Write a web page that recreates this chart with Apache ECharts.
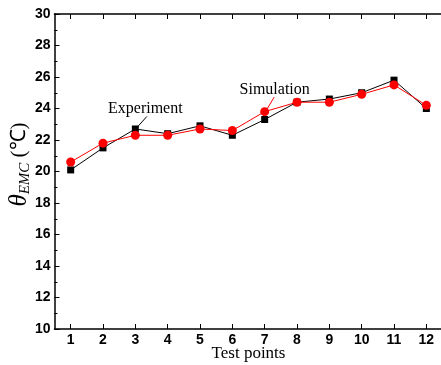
<!DOCTYPE html>
<html>
<head>
<meta charset="utf-8">
<script src="https://cdn.jsdelivr.net/npm/echarts@6/dist/echarts.min.js"></script>
<style>
  html, body { margin: 0; padding: 0; background: #fff; }
  #chart { width: 441px; height: 365px; }
</style>
</head>
<body>
<div id="chart"></div>
<script>
// Test point categories and measured / simulated temperatures
const testPoints = ['1', '2', '3', '4', '5', '6', '7', '8', '9', '10', '11', '12'];
const experiment = [20.1, 21.5, 22.7, 22.4, 22.9, 22.3, 23.3, 24.4, 24.6, 25.0, 25.8, 24.0];
const simulation = [20.6, 21.8, 22.3, 22.3, 22.7, 22.6, 23.8, 24.4, 24.4, 24.9, 25.5, 24.2];
const yTicks = [10, 12, 14, 16, 18, 20, 22, 24, 26, 28, 30];

const chart = echarts.init(document.getElementById('chart'), null, { renderer: 'canvas' });

const axisFont = { fontFamily: 'Liberation Sans, Arial, sans-serif', fontWeight: 'bold', fontSize: 14, color: '#000' };

chart.setOption({
  animation: false,
  backgroundColor: '#fff',
  grid: { left: 54.5, top: 14, right: -1.5, bottom: 36, containLabel: false, outerBoundsMode: 'none' },
  xAxis: [
    {
      type: 'category',
      data: testPoints,
      boundaryGap: true,
      name: 'Test points',
      nameLocation: 'middle',
      nameGap: 16,
      nameMoveOverlap: false,
      nameTextStyle: { fontFamily: 'Liberation Serif, Times New Roman, serif', fontSize: 17, color: '#000' },
      axisLine: { lineStyle: { color: '#000', width: 1.5 } },
      axisTick: { show: true, inside: true, alignWithLabel: true, length: 5, lineStyle: { color: '#000', width: 1 } },
      axisLabel: Object.assign({ margin: 4 }, axisFont),
      splitLine: { show: false }
    },
    {
      type: 'category',
      data: testPoints,
      position: 'top',
      boundaryGap: true,
      axisLine: { lineStyle: { color: '#000', width: 1.5 } },
      axisTick: { show: true, inside: true, alignWithLabel: true, length: 5, lineStyle: { color: '#000', width: 1 } },
      axisLabel: { show: false },
      splitLine: { show: false }
    }
  ],
  yAxis: {
    type: 'value',
    min: yTicks[0],
    max: yTicks[yTicks.length - 1],
    interval: 2,
    name: '{t|θ}{s|EMC}{u| (℃)}',
    nameLocation: 'middle',
    nameGap: 22,
    nameMoveOverlap: false,
    nameRotate: 90,
    nameTextStyle: {
      color: '#000',
      padding: [0, 0, 0, 14],
      rich: {
        t: { fontFamily: 'Liberation Serif, Times New Roman, serif', fontStyle: 'italic', fontSize: 25, color: '#000', lineHeight: 26 },
        s: { fontFamily: 'Liberation Serif, Times New Roman, serif', fontStyle: 'italic', fontSize: 15, color: '#000', lineHeight: 26, verticalAlign: 'bottom', padding: [8, 0, 0, 0] },
        u: { fontFamily: 'Liberation Serif, Times New Roman, serif', fontSize: 21, color: '#000', lineHeight: 26 }
      }
    },
    axisLine: { show: true, lineStyle: { color: '#000', width: 1.5 } },
    axisTick: { show: true, inside: true, length: 5, lineStyle: { color: '#000', width: 1 } },
    minorTick: { show: true, splitNumber: 2, length: 3, lineStyle: { color: '#000', width: 1 } },
    axisLabel: Object.assign({ margin: 4 }, axisFont),
    splitLine: { show: false }
  },
  series: [
    {
      name: 'Experiment',
      type: 'line',
      data: experiment,
      symbol: 'rect',
      symbolSize: 7,
      itemStyle: { color: '#000' },
      lineStyle: { color: '#000', width: 1 },
      z: 2
    },
    {
      name: 'Simulation',
      type: 'line',
      data: simulation,
      symbol: 'circle',
      symbolSize: 9,
      itemStyle: { color: '#ff0000' },
      lineStyle: { color: '#ff0000', width: 1 },
      z: 3
    }
  ]
});

// Callout labels anchored to the points they describe
function callout(seriesIndex, idx, value, text, color, lineFrom, lineTo, textOffset) {
  const p = chart.convertToPixel({ seriesIndex: seriesIndex }, [idx, value]);
  return [
    {
      type: 'line',
      shape: { x1: p[0] + lineFrom[0], y1: p[1] + lineFrom[1], x2: p[0] + lineTo[0], y2: p[1] + lineTo[1] },
      style: { stroke: color, lineWidth: 1 },
      z: 10
    },
    {
      type: 'text',
      x: p[0] + textOffset[0],
      y: p[1] + textOffset[1],
      style: {
        text: text,
        fill: '#000',
        font: '16px "Liberation Serif", "Times New Roman", serif',
        align: 'center',
        verticalAlign: 'bottom'
      },
      z: 10
    }
  ];
}

chart.setOption({
  graphic: [].concat(
    callout(0, 2, experiment[2], 'Experiment', '#000', [3, -3], [11.5, -12.5], [10, -12]),
    callout(1, 6, simulation[6], 'Simulation', '#ff0000', [2, -2], [9.5, -14.5], [10, -13.5])
  )
});
</script>
</body>
</html>
